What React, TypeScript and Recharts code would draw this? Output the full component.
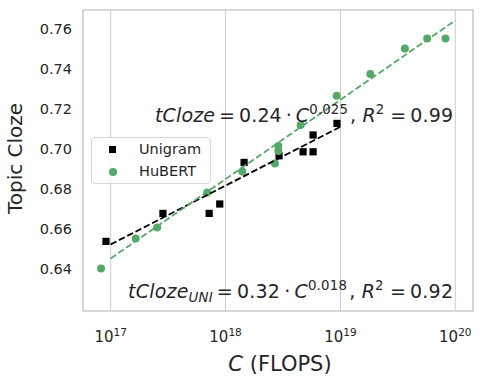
import { ScatterChart, Scatter, XAxis, YAxis, CartesianGrid, ReferenceArea, Legend } from 'recharts';

// measured points (compute in FLOPs, topic cloze accuracy)
const unigramFlops = [9.1e16, 2.85e17, 7.2e17, 8.9e17, 1.45e18, 2.92e18, 4.73e18, 5.78e18, 5.78e18, 9.33e18];
const unigramScore = [0.6535, 0.6675, 0.6675, 0.6722, 0.693, 0.6963, 0.6983, 0.6983, 0.7067, 0.7125];

const hubertFlops = [
  8.24e16, 1.65e17, 2.54e17, 6.92e17, 1.4e18, 2.69e18, 2.88e18, 2.88e18, 4.5e18, 9.27e18, 1.82e19, 3.64e19, 5.69e19,
  8.22e19,
];
const hubertScore = [
  0.64, 0.655, 0.6605, 0.678, 0.6885, 0.6925, 0.6987, 0.7012, 0.7117, 0.7263, 0.7372, 0.75, 0.755, 0.755,
];

// power-law fits, endpoints
const unigramFitFlops = [1e17, 1e19];
const unigramFitScore = [0.652, 0.7108];
const hubertFitFlops = [1e17, 1e20];
const hubertFitScore = [0.645, 0.764];

const xTicks = [1e17, 1e18, 1e19, 1e20];
const xTickExp = ['17', '18', '19', '20'];
const yTicks = [0.64, 0.66, 0.68, 0.7, 0.72, 0.74, 0.76];

const xDomain = [10 ** 16.759, 10 ** 20.154];
const yDomain = [0.6187, 0.7692];

const GREEN = '#55a868';
const TEXT = '#262626';
const GRID = '#cccccc';
const FONT = 'DejaVu Sans, sans-serif';

const zip = (xs: number[], ys: number[]) => xs.map((x, i) => ({ x, y: ys[i] }));

const unigram = zip(unigramFlops, unigramScore);
const hubert = zip(hubertFlops, hubertScore);
const unigramFit = zip(unigramFitFlops, unigramFitScore);
const hubertFit = zip(hubertFitFlops, hubertFitScore);

const XTick = ({ x, y, payload }: any) => {
  const i = xTicks.indexOf(payload.value);
  return (
    <text x={x} y={y + 29} textAnchor="middle" fill={TEXT} fontFamily={FONT} fontSize={15}>
      <tspan>10</tspan>
      <tspan dy={-6.5} fontSize={10.5}>
        {xTickExp[i]}
      </tspan>
    </text>
  );
};

const Square = ({ cx, cy }: any) => <rect x={cx - 3.6} y={cy - 3.6} width={7.2} height={7.2} fill="#000" />;
const Dot = ({ cx, cy }: any) => <circle cx={cx} cy={cy} r={4} fill={GREEN} />;
const NoMark = () => <g />;

const LegendBox = () => (
  <div
    style={{
      width: 118,
      height: 45,
      border: '1px solid #d6d6d6',
      borderRadius: 4,
      background: 'rgba(255,255,255,0.8)',
      fontFamily: FONT,
      fontSize: 14.5,
      color: TEXT,
      position: 'relative',
    }}
  >
    <div style={{ position: 'absolute', left: 17, top: 8, width: 7, height: 7, background: '#000' }} />
    <div style={{ position: 'absolute', left: 47, top: 1, lineHeight: '20px' }}>Unigram</div>
    <div style={{ position: 'absolute', left: 16.5, top: 29.5, width: 8, height: 8, borderRadius: 4, background: GREEN }} />
    <div style={{ position: 'absolute', left: 47, top: 23, lineHeight: '20px' }}>HuBERT</div>
  </div>
);

const sup = (s: string, size: number) => [
  <tspan key="a" dy={-size * 0.42} fontSize={size * 0.7}>
    {s}
  </tspan>,
  <tspan key="b" dy={size * 0.42}>
    {'\u200a'}
  </tspan>,
];

const TS = '\u2009';

export default function App() {
  const fs = 19;
  return (
    <div style={{ position: 'absolute', left: 0, top: 0, width: 483, height: 384, background: '#fff' }}>
      <ScatterChart width={483} height={384} margin={{ top: 10, right: 10, bottom: 0, left: 0 }}>
        <CartesianGrid horizontal={false} stroke={GRID} strokeWidth={1} />
        <XAxis
          dataKey="x"
          type="number"
          scale="log"
          domain={xDomain}
          ticks={xTicks}
          interval={0}
          allowDataOverflow
          height={73}
          tickSize={0}
          tickLine={false}
          axisLine={false}
          tick={<XTick />}
        />
        <YAxis
          dataKey="y"
          type="number"
          domain={yDomain}
          ticks={yTicks}
          interval={0}
          allowDataOverflow
          width={83}
          tickSize={0}
          tickMargin={11}
          tickLine={false}
          axisLine={false}
          tickFormatter={(v: number) => v.toFixed(2)}
          tick={{ fontSize: 14.5, fill: TEXT, fontFamily: FONT }}
        />
        <ReferenceArea
          x1={xDomain[0]}
          x2={xDomain[1]}
          y1={yDomain[0]}
          y2={yDomain[1]}
          fill="none"
          stroke={GRID}
          strokeWidth={1.3}
          ifOverflow="visible"
        />
        <Scatter name="Unigram" data={unigram} shape={<Square />} isAnimationActive={false} />
        <Scatter name="HuBERT" data={hubert} shape={<Dot />} isAnimationActive={false} />
        <Scatter
          data={unigramFit}
          shape={<NoMark />}
          line={{ stroke: '#000', strokeWidth: 1.8, strokeDasharray: '6.5 2.8' }}
          legendType="none"
          isAnimationActive={false}
        />
        <Scatter
          data={hubertFit}
          shape={<NoMark />}
          line={{ stroke: GREEN, strokeWidth: 1.8, strokeDasharray: '6.5 2.8' }}
          legendType="none"
          isAnimationActive={false}
        />
        <Legend
          layout="vertical"
          align="center"
          verticalAlign="middle"
          content={<LegendBox />}
          wrapperStyle={{ left: 91, top: 137, width: 120, height: 47 }}
        />
      </ScatterChart>

      {/* annotations and axis titles */}
      <svg
        width={483}
        height={384}
        style={{ position: 'absolute', left: 0, top: 0, pointerEvents: 'none' }}
        fontFamily={FONT}
        fill={TEXT}
      >
        <text x={155} y={121.5} fontSize={fs} textLength={298} lengthAdjust="spacing">
          <tspan fontStyle="italic">tCloze</tspan>
          <tspan>{`${TS}=${TS}0.24${TS}·${TS}`}</tspan>
          <tspan fontStyle="italic">C</tspan>
          {sup('0.025', fs)}
          <tspan>{', '}</tspan>
          <tspan fontStyle="italic">R</tspan>
          {sup('2', fs)}
          <tspan>{`${TS}=${TS}0.99`}</tspan>
        </text>
        <text x={128} y={298.3} fontSize={fs} textLength={325} lengthAdjust="spacing">
          <tspan fontStyle="italic">tCloze</tspan>
          <tspan dy={4} fontSize={fs * 0.7} fontStyle="italic">
            UNI
          </tspan>
          <tspan dy={-4}>{`${TS}=${TS}0.32${TS}·${TS}`}</tspan>
          <tspan fontStyle="italic">C</tspan>
          {sup('0.018', fs)}
          <tspan>{', '}</tspan>
          <tspan fontStyle="italic">R</tspan>
          {sup('2', fs)}
          <tspan>{`${TS}=${TS}0.92`}</tspan>
        </text>
        <text x={280} y={371} fontSize={21} textAnchor="middle">
          <tspan fontStyle="italic">C</tspan>
          <tspan>{' (FLOPS)'}</tspan>
        </text>
        <text x={0} y={0} fontSize={20} textAnchor="middle" transform="translate(22 158.5) rotate(-90)">
          Topic Cloze
        </text>
      </svg>
    </div>
  );
}
